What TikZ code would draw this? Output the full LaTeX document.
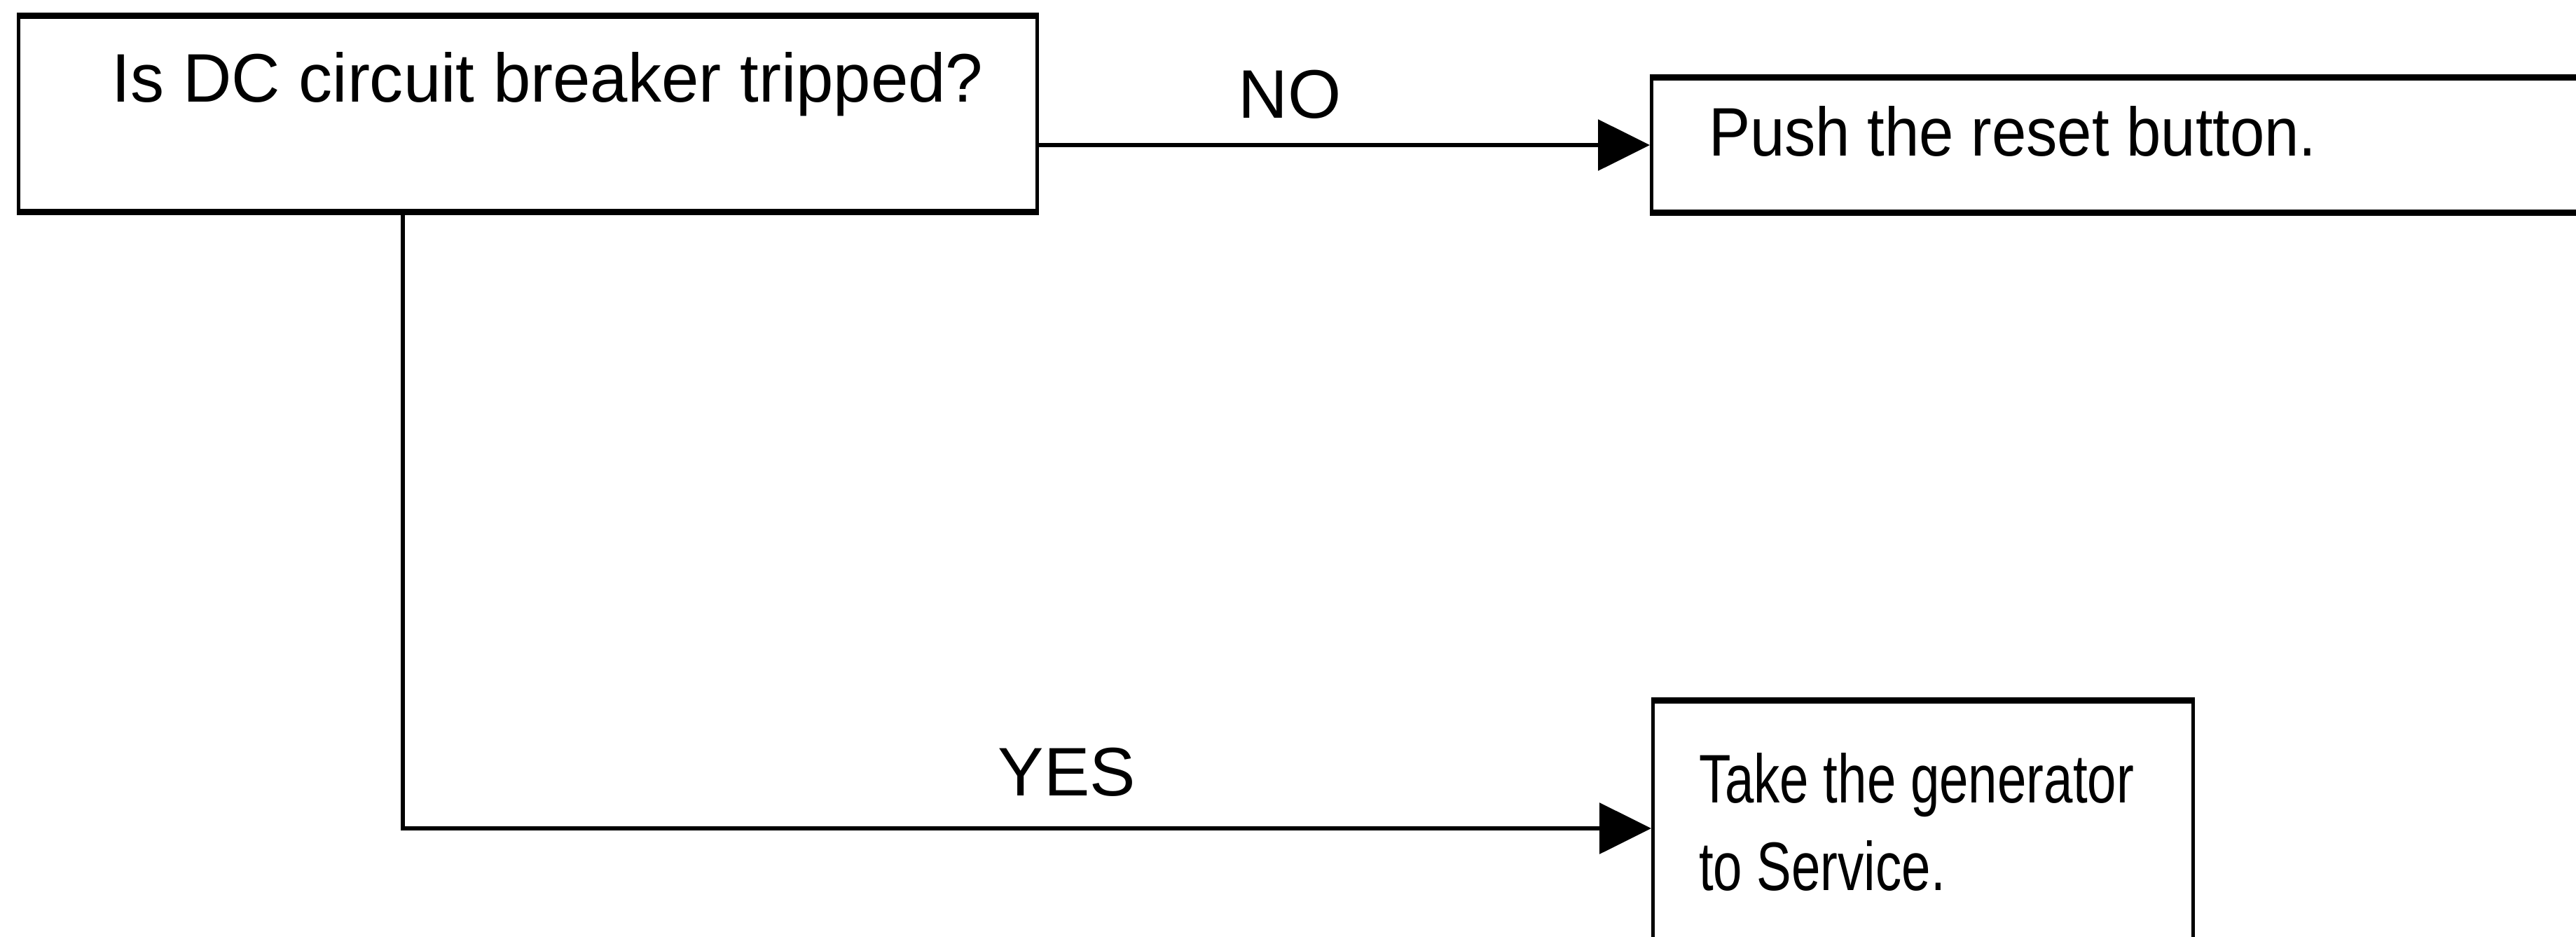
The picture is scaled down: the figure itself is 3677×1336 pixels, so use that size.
\documentclass[tikz,border=0pt]{standalone}
\usepackage{fontspec}
\setmainfont{Liberation Sans}
\usepackage{graphicx}
\usetikzlibrary{arrows.meta}
\tikzset{
  box/.style={draw=black, line width=0.5pt, inner sep=0pt, anchor=north west, fill=none},
  boxtext/.style={inner sep=0pt, anchor=base west, font=\fontsize{9.8}{12.5}\selectfont},
  lbl/.style={inner sep=0pt, anchor=base, font=\fontsize{9.8}{12.5}\selectfont},
  arr/.style={line width=0.65pt, -{Triangle[length=7.4pt,width=7.2pt]}},
  thickedge/.style={line width=0.75pt}
}
\begin{document}
\begin{tikzpicture}[x=0.1pt,y=-0.1pt]
\useasboundingbox[fill=white] (0,0) rectangle (3677,1336);
\clip (0,0) rectangle (3677,1336);
% boxes
\node[box, minimum width=145.4pt, minimum height=27.6pt] (b1) at (24,22) {};
\node[box, minimum width=136.5pt, minimum height=18.9pt] (b2) at (2355,110) {};
\node[box, minimum width=77.1pt, minimum height=36.1pt] (b3) at (2357,999) {};
\draw[thickedge] (b1.north west) -- (b1.north east);
\draw[thickedge] (b1.south west) -- (b1.south east);
\draw[thickedge] (b2.north west) -- (b2.north east);
\draw[thickedge] (b2.south west) -- (b2.south east);
\draw[thickedge] (b3.north west) -- (b3.north east);
% texts
\node[boxtext] (t1) at (158,145) {\scalebox{0.98}[1]{Is DC circuit breaker tripped?}};
\node[boxtext] (t2) at (2437,222) {\scalebox{0.905}[1]{Push the reset button.}};
\node[boxtext] (t3) at (2423,1145) {\scalebox{0.76}[1]{\begin{tabular}[t]{@{}l@{}}Take the generator\\to Service.\end{tabular}}};
% connectors
\draw[arr] (b1.east |- b2.west) -- (b2.west);
\draw[arr] ([xshift=55.1pt]b1.south west) |- (b3.west);
% labels
\node[lbl] (no) at (1841,168) {NO};
\node[lbl] (yes) at (1523,1135) {YES};
\end{tikzpicture}
\end{document}
